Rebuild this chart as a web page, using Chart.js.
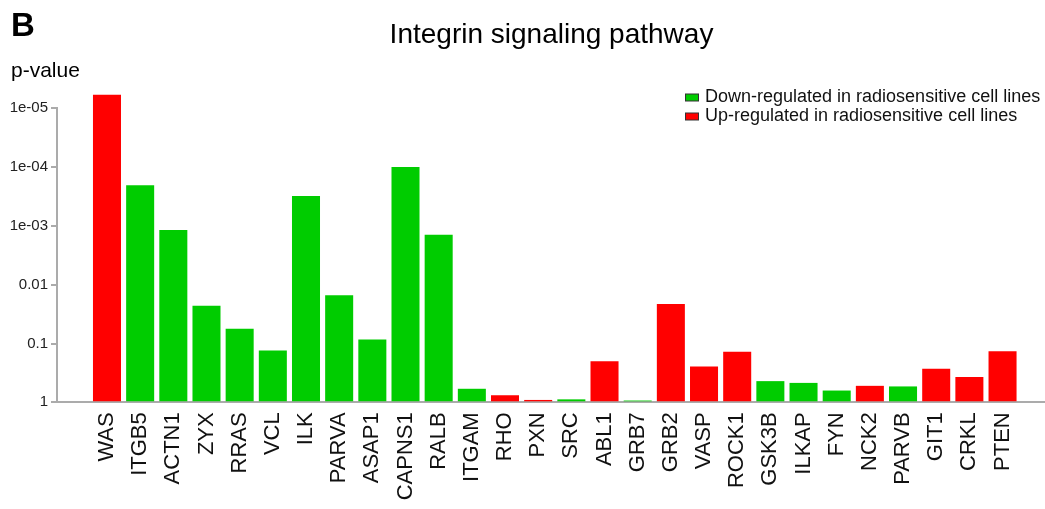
<!DOCTYPE html>
<html>
<head>
<meta charset="utf-8">
<script src="https://cdn.jsdelivr.net/npm/chart.js@4"></script>
<style>
  html, body { margin: 0; padding: 0; background: #fff; }
  #wrap { width: 1045px; height: 509px; }
</style>
</head>
<body>
<div id="wrap"><canvas id="myChart" width="1045" height="509"></canvas></div>
<script>
const genes = [
  'WAS', 'ITGB5', 'ACTN1', 'ZYX', 'RRAS', 'VCL', 'ILK', 'PARVA', 'ASAP1', 'CAPNS1',
  'RALB', 'ITGAM', 'RHO', 'PXN', 'SRC', 'ABL1', 'GRB7', 'GRB2', 'VASP', 'ROCK1',
  'GSK3B', 'ILKAP', 'FYN', 'NCK2', 'PARVB', 'GIT1', 'CRKL', 'PTEN'
];
// -log10(p-value)
const negLog10P = [
  5.23, 3.69, 2.93, 1.64, 1.25, 0.88, 3.51, 1.82, 1.07, 4.00,
  2.85, 0.23, 0.12, 0.04, 0.05, 0.70, 0.03, 1.67, 0.61, 0.86,
  0.36, 0.33, 0.20, 0.28, 0.27, 0.57, 0.43, 0.87
];
const direction = [
  'up', 'down', 'down', 'down', 'down', 'down', 'down', 'down', 'down', 'down',
  'down', 'down', 'up', 'up', 'down', 'up', 'down', 'up', 'up', 'up',
  'down', 'down', 'down', 'up', 'down', 'up', 'up', 'up'
];
const yTickLabels = ['1', '0.1', '0.01', '1e-03', '1e-04', '1e-05'];

const FONT = "'Liberation Sans', Arial, Helvetica, sans-serif";

function pointsFor(dir) {
  const pts = [];
  genes.forEach((g, i) => {
    if (direction[i] === dir) pts.push({ x: i, y: negLog10P[i] });
  });
  return pts;
}

const data = {
  datasets: [{
    label: 'Down-regulated in radiosensitive cell lines',
    backgroundColor: 'rgb(0, 204, 0)',
    data: pointsFor('down'),
  },
  {
    label: 'Up-regulated in radiosensitive cell lines',
    backgroundColor: 'rgb(255, 0, 0)',
    data: pointsFor('up'),
  }]
};

// title, panel letter, axis title and legend
const annotations = {
  id: 'annotations',
  afterDraw(chart) {
    const ctx = chart.ctx;
    ctx.save();
    ctx.fillStyle = '#000';
    ctx.textBaseline = 'alphabetic';

    ctx.font = 'bold 33px ' + FONT;
    ctx.textAlign = 'left';
    ctx.fillText('B', 11, 36);

    ctx.font = '28px ' + FONT;
    ctx.textAlign = 'center';
    ctx.fillText('Integrin signaling pathway', 551.5, 43);

    ctx.font = '21px ' + FONT;
    ctx.textAlign = 'left';
    ctx.fillText('p-value', 11, 77);

    ctx.font = '18px ' + FONT;
    ctx.textBaseline = 'middle';
    chart.data.datasets.forEach((ds, i) => {
      const y = 97.5 + i * 19;
      ctx.fillStyle = ds.backgroundColor;
      ctx.fillRect(685.5, y - 3.5, 13, 7);
      ctx.strokeStyle = '#333';
      ctx.lineWidth = 1;
      ctx.strokeRect(685.5, y - 3.5, 13, 7);
      ctx.fillStyle = '#111';
      ctx.fillText(ds.label, 705, y);
    });
    ctx.restore();
  }
};

const config = {
  type: 'bar',
  data: data,
  plugins: [annotations],
  options: {
    responsive: false,
    animation: false,
    layout: {
      padding: { top: 108.3, left: 0, right: 0, bottom: 0 }
    },
    datasets: {
      bar: {
        grouped: false,
        clip: false,
        categoryPercentage: 1,
        barPercentage: 0.845
      }
    },
    plugins: {
      legend: { display: false },
      tooltip: { enabled: false }
    },
    scales: {
      x: {
        type: 'linear',
        offset: false,
        min: -1.507,
        max: 28.28,
        afterFit(scale) {
          scale.height = 106.7;
          scale.paddingLeft = 0;
          scale.paddingRight = 0;
        },
        grid: { display: false, drawTicks: false },
        border: { display: true, color: '#ababab', width: 2 },
        ticks: {
          stepSize: 1,
          autoSkip: false,
          includeBounds: false,
          minRotation: 90,
          maxRotation: 90,
          padding: 10,
          color: '#111',
          font: { family: FONT, size: 22 },
          callback: (v) => genes[v] ?? ''
        }
      },
      y: {
        min: 0,
        max: 5,
        afterFit(scale) { scale.width = 57; },
        grid: { drawOnChartArea: false, tickLength: 6, color: '#ababab', lineWidth: 2 },
        border: { display: true, color: '#ababab', width: 2 },
        ticks: {
          stepSize: 1,
          padding: 3,
          color: '#222',
          font: { family: FONT, size: 15 },
          callback: (v) => yTickLabels[v]
        }
      }
    }
  }
};

const myChart = new Chart(
  document.getElementById('myChart'),
  config
);
</script>
</body>
</html>
